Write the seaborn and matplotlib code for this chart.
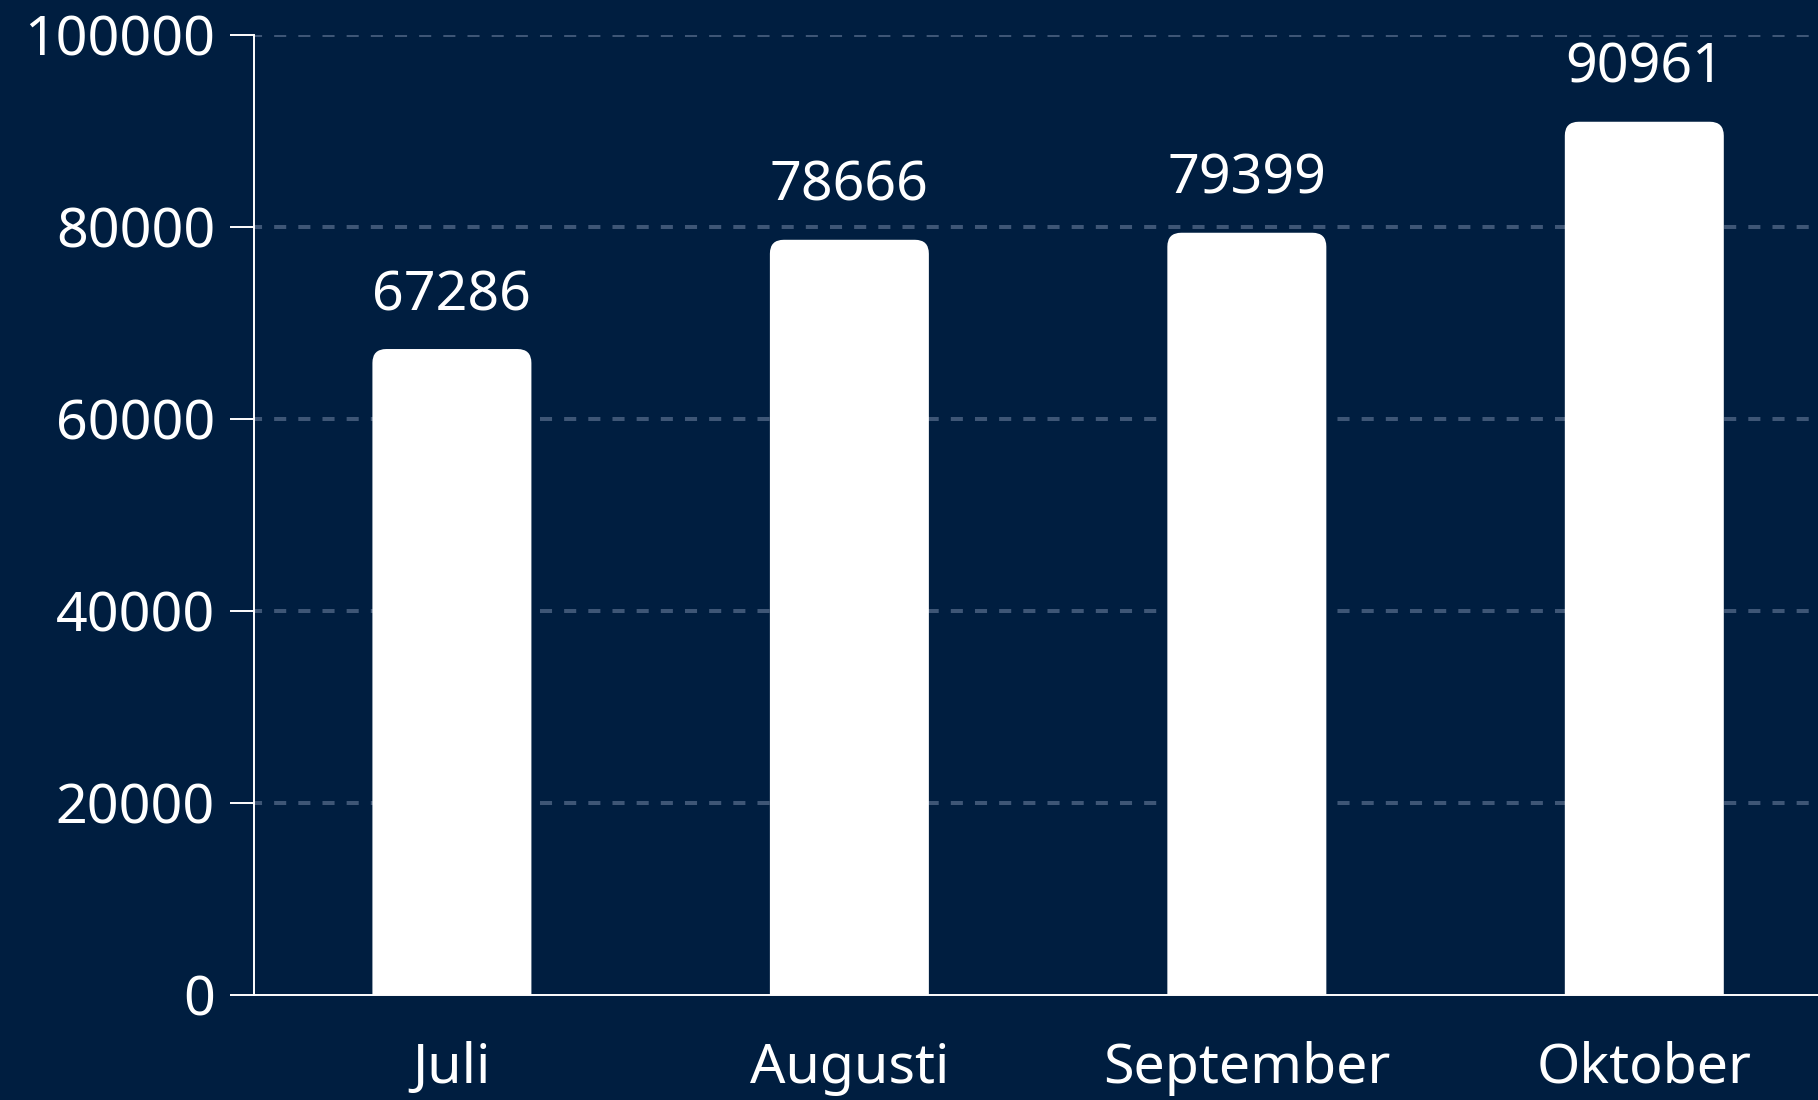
import matplotlib.pyplot as plt
import pandas as pd
import seaborn as sns
from matplotlib.patches import FancyBboxPatch

months = ["Juli", "Augusti", "September", "Oktober"]
counts = [67286, 78666, 79399, 90961]
y_ticks = [0, 20000, 40000, 60000, 80000, 100000]

BG = "#001e40"
GRID = "#3e5676"


def main() -> None:
    df = pd.DataFrame({"month": months, "count": counts})

    sns.set_theme(style="white")
    plt.rcParams["font.family"] = ["Noto Sans", "DejaVu Sans"]

    fig = plt.figure(figsize=(18.18, 11), dpi=100, facecolor=BG)
    ax = fig.add_axes([0.1397, 0.0955, 0.8603, 0.8727])
    ax.set_facecolor(BG)

    sns.barplot(data=df, x="month", y="count", color="white", width=0.4,
                saturation=1, ax=ax, zorder=3)

    ax.set_xlim(-0.498, 3.437)
    ax.set_ylim(0, 100000)
    ax.set_yticks(y_ticks)
    ax.set_yticklabels([str(t) for t in y_ticks])

    # rounded top corners: swap bars for rounded boxes that dip below 0 (clipped)
    ext = 5000
    for p in list(ax.patches):
        x0, w, h = p.get_x(), p.get_width(), p.get_height()
        box = FancyBboxPatch((x0, -ext), w, h + ext,
                             boxstyle="round,pad=0,rounding_size=0.035",
                             mutation_aspect=41350, facecolor="white",
                             edgecolor="none", zorder=3, clip_on=True)
        p.remove()
        ax.add_patch(box)

    for i, v in enumerate(counts):
        ax.annotate(str(v), (i, v), xytext=(0, 28), textcoords="offset points",
                    ha="center", va="baseline", color="white", fontsize=40)

    ax.yaxis.grid(True, color=GRID, linewidth=2.9, linestyle=(1, (3, 3)), zorder=0)
    ax.xaxis.grid(False)
    ax.set_axisbelow(True)
    ax.get_ygridlines()[0].set_visible(False)  # baseline is the spine

    for side in ["top", "right"]:
        ax.spines[side].set_visible(False)
    for side in ["left", "bottom"]:
        ax.spines[side].set_color("white")
        ax.spines[side].set_linewidth(1.4)
        ax.spines[side].set_zorder(4)

    ax.tick_params(axis="y", left=True, length=17, width=1.4, color="white",
                   pad=11, labelsize=40, labelcolor="white")
    ax.tick_params(axis="x", bottom=False, length=0, pad=33,
                   labelsize=40, labelcolor="white")
    ax.set_xlabel("")
    ax.set_ylabel("")

    fig.savefig("out.png", dpi=100, facecolor=BG)
    plt.close(fig)


if __name__ == "__main__":
    main()
